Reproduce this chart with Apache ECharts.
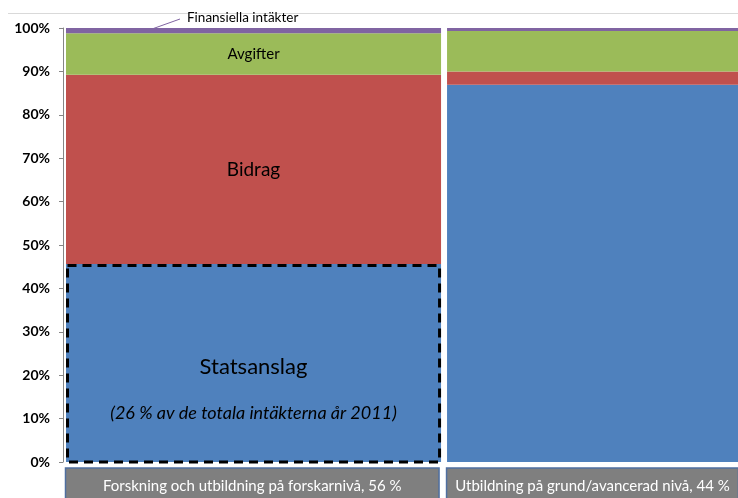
<!DOCTYPE html>
<html>
<head>
<meta charset="utf-8">
<script src="https://cdn.jsdelivr.net/npm/echarts@6/dist/echarts.min.js"></script>
<style>
  html, body { margin: 0; padding: 0; background: #fff; }
  #main { width: 738px; height: 498px; }
</style>
</head>
<body>
<div id="main"></div>
<script>
// kolumner (andel av totala intäkter, %)
var categories = ['Forskning och utbildning på forskarnivå, 56 %', 'Utbildning på grund/avancerad nivå, 44 %'];
var columnShare = [56, 44];
// intäktsslag, andel inom kolumnen (%)
var segmentNames = ['Statsanslag', 'Bidrag', 'Avgifter', 'Finansiella intäkter'];
var statsanslag = [45.6, 86.9];
var bidrag = [43.6, 3.1];
var avgifter = [9.6, 9.3];
var finansiella = [1.2, 0.7];
var yTicks = [0, 10, 20, 30, 40, 50, 60, 70, 80, 90, 100];

var colors = ['#4f81bd', '#c0504d', '#9bbb59', '#8064a2'];
var font = 'Lato, Calibri, sans-serif';

var segments = [statsanslag, bidrag, avgifter, finansiella];

// bygg staplade rektanglar [x0, x1, y0, y1, kolumn]
var xStart = [];
var acc = 0;
columnShare.forEach(function (s) { xStart.push(acc); acc += s; });
var base = columnShare.map(function () { return 0; });

var series = segments.map(function (vals, si) {
    var data = vals.map(function (v, ci) {
        var d = [xStart[ci], xStart[ci] + columnShare[ci], base[ci], base[ci] + v, ci];
        base[ci] += v;
        return d;
    });
    return {
        name: segmentNames[si],
        type: 'custom',
        z: 2 + si,
        data: data,
        renderItem: function (params, api) {
            var p0 = api.coord([api.value(0), api.value(2)]);
            var p1 = api.coord([api.value(1), api.value(3)]);
            var x0 = p0[0] + 3, x1 = p1[0] - 3;
            var ci = api.value(4);
            var children = [{
                type: 'rect',
                shape: { x: x0, y: p1[1], width: x1 - x0, height: p0[1] - p1[1] },
                style: { fill: colors[si] }
            }];
            if (ci === 0) {
                var cx = (x0 + x1) / 2;
                var cy = (p0[1] + p1[1]) / 2;
                if (si === 0) {
                    // streckad ram runt statsanslag
                    children.push({
                        type: 'rect',
                        shape: { x: x0 + 1.5, y: p1[1] + 1.5, width: x1 - x0 - 3, height: p0[1] - p1[1] - 1.5 },
                        style: { fill: 'none', stroke: '#000', lineWidth: 3, lineDash: [9, 6] }
                    });
                    children.push({
                        type: 'text', x: cx, y: cy + 4,
                        style: { text: segmentNames[si], fill: '#000', font: '22px ' + font, align: 'center', verticalAlign: 'middle' }
                    });
                    children.push({
                        type: 'text', x: cx, y: cy + 50,
                        style: { text: '(26 % av de totala intäkterna år 2011)', fill: '#000', font: 'italic 18px ' + font, align: 'center', verticalAlign: 'middle' }
                    });
                } else if (si === 1) {
                    children.push({
                        type: 'text', x: cx, y: cy,
                        style: { text: segmentNames[si], fill: '#000', font: '19px ' + font, align: 'center', verticalAlign: 'middle' }
                    });
                } else if (si === 2) {
                    children.push({
                        type: 'text', x: cx, y: cy,
                        style: { text: segmentNames[si], fill: '#000', font: '15px ' + font, align: 'center', verticalAlign: 'middle' }
                    });
                } else {
                    children.push({
                        type: 'line',
                        shape: { x1: x0 + 86, y1: p1[1] + 1, x2: x0 + 114, y2: p1[1] - 9 },
                        style: { stroke: '#8064a2', lineWidth: 1 }
                    });
                    children.push({
                        type: 'text', x: x0 + 121, y: p1[1] - 10,
                        style: { text: segmentNames[si], fill: '#000', font: '13.5px ' + font, align: 'left', verticalAlign: 'middle' }
                    });
                }
            }
            return { type: 'group', children: children };
        }
    };
});

// kategorirutor under diagrammet
series.push({
    type: 'custom',
    z: 10,
    data: columnShare.map(function (s, ci) { return [xStart[ci], xStart[ci] + s, ci]; }),
    renderItem: function (params, api) {
        var p0 = api.coord([api.value(0), 0]);
        var p1 = api.coord([api.value(1), 0]);
        var x0 = p0[0] + 2.5, x1 = p1[0] - 5;
        var y = p0[1] + 6;
        return {
            type: 'group',
            children: [{
                type: 'rect',
                shape: { x: x0, y: y, width: x1 - x0, height: 40 },
                style: { fill: '#7f7f7f', stroke: '#4f6fa0', lineWidth: 1.5 }
            }, {
                type: 'text', x: (x0 + x1) / 2, y: y + 18,
                style: { text: categories[api.value(2)], fill: '#fff', font: '15px ' + font, align: 'center', verticalAlign: 'middle' }
            }]
        };
    }
});

var myChart = echarts.init(document.getElementById('main'));
var option = {
    backgroundColor: '#fff',
    animation: false,
    // kolumn 2 fortsätter utanför bildkanten
    grid: { left: 63, top: 28, right: 0, height: 434, containLabel: false },
    xAxis: { type: 'value', min: 0, max: 99.2, show: false },
    yAxis: {
        type: 'value',
        min: yTicks[0],
        max: yTicks[yTicks.length - 1],
        interval: 10,
        axisLine: { show: true, lineStyle: { color: '#868686' } },
        axisTick: { show: true, length: 4, lineStyle: { color: '#868686' } },
        splitLine: { show: false },
        axisLabel: { formatter: '{value}%', color: '#000', fontWeight: 'bold', fontSize: 14, fontFamily: font, margin: 13 }
    },
    graphic: [{
        type: 'line',
        shape: { x1: 8, y1: 13.5, x2: 738, y2: 13.5 },
        style: { stroke: '#d9d9d9', lineWidth: 1 }
    }],
    series: series
};
myChart.setOption(option);
</script>
</body>
</html>
